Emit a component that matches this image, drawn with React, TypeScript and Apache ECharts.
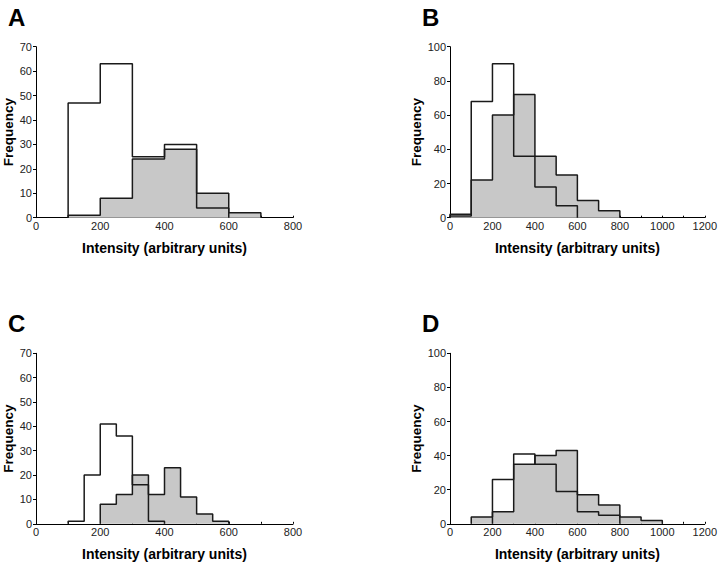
import React, { useEffect, useRef } from "react";
import * as echarts from "echarts";

// Panel A (bins of 100)
const aOpenStart = 100;
const aOpenValues = [47, 63, 25, 30, 4];
const aGrayStart = 100;
const aGrayValues = [1, 8, 24, 28, 10, 2];
const aBinWidth = 100;

// Panel B (bins of 100)
const bOpenStart = 0;
const bOpenValues = [2, 68, 90, 36, 18, 7];
const bGrayStart = 0;
const bGrayValues = [1, 22, 60, 72, 36, 25, 10, 4];
const bBinWidth = 100;

// Panel C (bins of 50)
const cOpenStart = 100;
const cOpenValues = [1, 20, 41, 36, 16, 1];
const cGrayStart = 200;
const cGrayValues = [8, 12, 20, 12, 23, 11, 4, 1];
const cBinWidth = 50;

// Panel D (bins of 100)
const dOpenStart = 200;
const dOpenValues = [26, 41, 35, 19, 7, 5];
const dGrayStart = 100;
const dGrayValues = [4, 7, 35, 40, 43, 17, 11, 4, 2];
const dBinWidth = 100;

const xTicksSmall = [0, 200, 400, 600, 800];
const xTicksLarge = [0, 200, 400, 600, 800, 1000, 1200];
const yTicks70 = [0, 10, 20, 30, 40, 50, 60, 70];
const yTicks100 = [0, 20, 40, 60, 80, 100];

const panelLetters = ["A", "B", "C", "D"];
const xTitle = "Intensity (arbitrary units)";
const yTitle = "Frequency";

function outline(start: number, width: number, values: number[]) {
  const pts: number[][] = [[start, 0]];
  values.forEach((v, i) => {
    pts.push([start + i * width, v]);
    pts.push([start + (i + 1) * width, v]);
  });
  pts.push([start + values.length * width, 0]);
  return pts;
}

const FONT = "'Liberation Sans', Arial, sans-serif";

export default function App() {
  const ref = useRef<HTMLDivElement>(null);
  useEffect(() => {
    if (!ref.current) return;
    const chart = echarts.init(ref.current, null, { renderer: "svg" });

    const grids = [
      { left: 36, top: 46.7, width: 257, height: 171 },
      { left: 450, top: 46.7, width: 257, height: 171 },
      { left: 36, top: 353.3, width: 257, height: 170.5 },
      { left: 450, top: 353.3, width: 257, height: 170.5 },
    ];
    const xTickSets = [xTicksSmall, xTicksLarge, xTicksSmall, xTicksLarge];
    const yTickSets = [yTicks70, yTicks100, yTicks70, yTicks100];
    const yGaps = [21, 27, 21, 27];

    const panels = [
      { os: aOpenStart, ov: aOpenValues, gs: aGrayStart, gv: aGrayValues, w: aBinWidth },
      { os: bOpenStart, ov: bOpenValues, gs: bGrayStart, gv: bGrayValues, w: bBinWidth },
      { os: cOpenStart, ov: cOpenValues, gs: cGrayStart, gv: cGrayValues, w: cBinWidth },
      { os: dOpenStart, ov: dOpenValues, gs: dGrayStart, gv: dGrayValues, w: dBinWidth },
    ];

    const xAxis = xTickSets.map((ticks, i) => ({
      type: "value",
      gridIndex: i,
      min: 0,
      max: ticks[ticks.length - 1],
      interval: 100,
      name: xTitle,
      nameLocation: "middle",
      nameGap: 23,
      nameTextStyle: { fontFamily: FONT, fontWeight: "bold", fontSize: 14, color: "#000" },
      axisLine: { show: true, lineStyle: { color: "#000", width: 1 } },
      axisTick: { show: true, inside: true, length: 2, lineStyle: { color: "#000" } },
      splitLine: { show: false },
      axisLabel: {
        fontFamily: FONT,
        fontSize: 11,
        color: "#222",
        margin: 3,
        formatter: (v: number) => (ticks.indexOf(v) >= 0 ? String(v) : ""),
      },
    }));

    const yAxis = yTickSets.map((ticks, i) => ({
      type: "value",
      gridIndex: i,
      min: 0,
      max: ticks[ticks.length - 1],
      interval: ticks[1] - ticks[0],
      name: yTitle,
      nameLocation: "middle",
      nameGap: yGaps[i],
      nameTextStyle: { fontFamily: FONT, fontWeight: "bold", fontSize: 13.5, color: "#000" },
      axisLine: { show: true, lineStyle: { color: "#000", width: 1 } },
      axisTick: { show: true, inside: false, length: 3, lineStyle: { color: "#000" } },
      splitLine: { show: false },
      axisLabel: { fontFamily: FONT, fontSize: 11, color: "#222", margin: 4 },
    }));

    const series: any[] = [];
    panels.forEach((p, i) => {
      series.push({
        type: "line",
        xAxisIndex: i,
        yAxisIndex: i,
        data: outline(p.gs, p.w, p.gv),
        symbol: "none",
        z: 2,
        lineStyle: { color: "#1a1a1a", width: 1.5 },
        areaStyle: { color: "#c8c8c8", opacity: 1 },
      });
      series.push({
        type: "line",
        xAxisIndex: i,
        yAxisIndex: i,
        data: outline(p.os, p.w, p.ov),
        symbol: "none",
        z: 3,
        lineStyle: { color: "#1a1a1a", width: 1.5 },
      });
    });

    const letterPos = [
      [8, 5],
      [422, 5],
      [8, 311],
      [422, 311],
    ];
    const graphic = panelLetters.map((t, i) => ({
      type: "text",
      left: letterPos[i][0],
      top: letterPos[i][1],
      style: { text: t, fontFamily: FONT, fontWeight: "bold", fontSize: 24, fill: "#000" },
    }));

    chart.setOption({
      animation: false,
      backgroundColor: "#fff",
      grid: grids,
      xAxis,
      yAxis,
      series,
      graphic,
    } as any);
    return () => chart.dispose();
  }, []);

  return (
    <div
      ref={ref}
      style={{ position: "fixed", left: 0, top: 0, width: 720, height: 563, background: "#fff" }}
    />
  );
}
